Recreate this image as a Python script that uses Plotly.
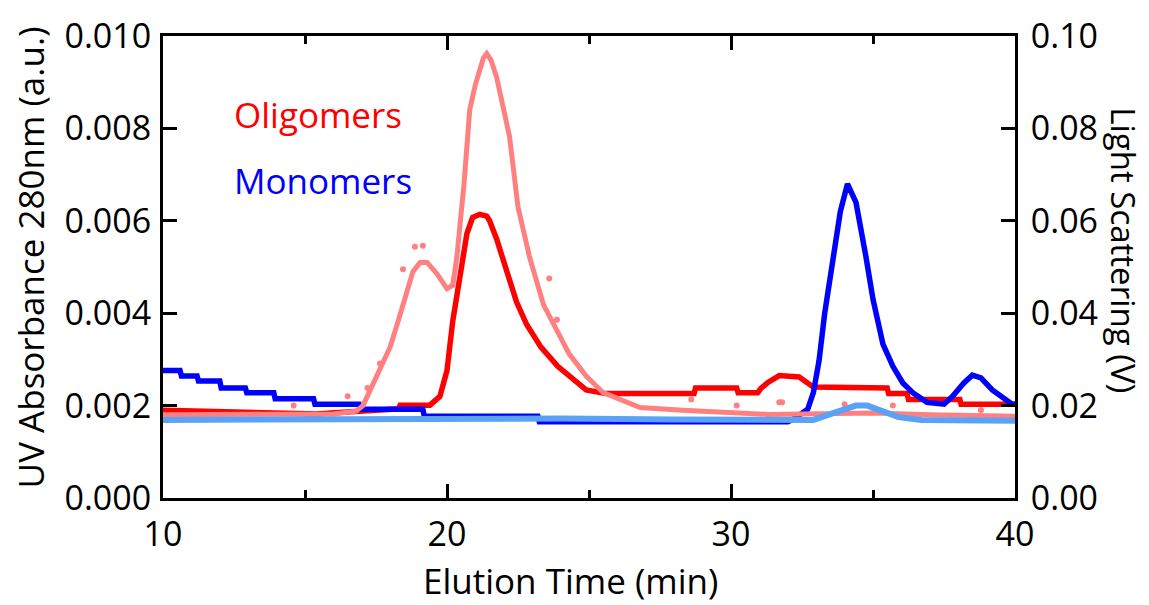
import plotly.graph_objects as go

# ---- Data ----
# UV absorbance, oligomers (a.u.)  -- left axis
uv_olig_t = [10, 11, 12, 13, 14, 15.4, 16.2, 16.8, 17.8, 18.3, 18.35, 19.4, 19.75, 20.0, 20.2,
             20.45, 20.7, 20.9, 21.15, 21.4, 21.5, 21.75, 22.1, 22.45, 22.8, 23.3, 23.9, 24.45,
             24.9, 25.6, 28.7, 28.75, 30.2, 30.25, 30.94, 31.06, 31.3, 31.7, 32.4, 32.9, 35.5,
             35.55, 36.2, 36.25, 38.06, 38.1, 40]
uv_olig_v = [0.00190, 0.00188, 0.00186, 0.00184, 0.00183, 0.00182, 0.00185, 0.00188, 0.00192,
             0.00193, 0.00201, 0.00201, 0.00220, 0.00276, 0.00382, 0.00487, 0.00572, 0.00607,
             0.00614, 0.00610, 0.00600, 0.00560, 0.00487, 0.00424, 0.00376, 0.00327, 0.00285,
             0.00255, 0.00234, 0.00226, 0.00226, 0.00238, 0.00238, 0.00228, 0.00228, 0.00238,
             0.00250, 0.00265, 0.00262, 0.00240, 0.00238, 0.00226, 0.00226, 0.00213, 0.00213,
             0.00203, 0.00203]

# UV absorbance, monomers (a.u.) -- left axis
uv_mono_t = [10, 10.6, 10.65, 11.2, 11.25, 12, 12.05, 12.9, 12.95, 13.9, 13.95, 15.3, 15.35,
             16.9, 16.95, 19.15, 19.2, 23.2, 23.25, 32.0, 32.2, 32.7, 32.9, 33.1, 33.3, 33.6,
             33.85, 34.1, 34.4, 34.75, 35.0, 35.35, 35.7, 36.05, 36.4, 36.9, 37.5, 37.8, 38.2,
             38.5, 38.8, 39.2, 39.6, 39.9, 40]
uv_mono_v = [0.00276, 0.00276, 0.00264, 0.00264, 0.00253, 0.00253, 0.00238, 0.00238, 0.00228,
             0.00228, 0.00215, 0.00215, 0.00203, 0.00203, 0.00192, 0.00192, 0.00177, 0.00177,
             0.00165, 0.00165, 0.00171, 0.00192, 0.00228, 0.00297, 0.00400, 0.00523, 0.00620,
             0.00680, 0.00640, 0.00523, 0.00430, 0.00333, 0.00285, 0.00249, 0.00228, 0.00207,
             0.00203, 0.00220, 0.00249, 0.00266, 0.00260, 0.00234, 0.00217, 0.00203, 0.00203]

# Light scattering, oligomers (V) -- right axis
ls_olig_t = [10, 12, 14, 16, 16.8, 17.04, 17.3, 17.6, 18.0, 18.35, 18.6, 18.8, 19.05, 19.3,
             19.65, 20.0, 20.2, 20.35, 20.6, 20.8, 21.0, 21.16, 21.28, 21.4, 21.55, 21.75,
             22.2, 22.5, 22.9, 23.4, 23.9, 24.3, 24.9, 25.5, 26.8, 28.3, 31.3, 33.5, 35.0,
             37.0, 40]
ls_olig_v = [0.0180, 0.0180, 0.0180, 0.0182, 0.0188, 0.0200, 0.0234, 0.0276, 0.0327, 0.0397,
             0.0445, 0.0490, 0.0510, 0.0510, 0.0485, 0.0453, 0.0460, 0.0523, 0.0680, 0.0840,
             0.0895, 0.0930, 0.0952, 0.0962, 0.0948, 0.0910, 0.0783, 0.0630, 0.0523, 0.0418,
             0.0360, 0.0312, 0.0264, 0.0228, 0.0196, 0.0190, 0.0181, 0.0183, 0.0184, 0.0180,
             0.0177]

# scattered outlier points of the oligomer light-scattering trace (V)
ls_olig_dot_t = [14.6, 16.5, 17.2, 17.64, 18.45, 18.87, 19.15, 23.6, 23.87, 28.6, 30.2, 31.7,
                 31.8, 34.0, 35.7, 38.8]
ls_olig_dot_v = [0.0200, 0.0220, 0.0238, 0.0291, 0.0495, 0.0544, 0.0546, 0.0475, 0.0386,
                 0.0213, 0.0200, 0.0207, 0.0207, 0.0203, 0.0200, 0.0190]

# Light scattering, monomers (V) -- right axis
ls_mono_t = [10, 14, 17, 20, 24, 28, 32.1, 32.9, 33.7, 34.4, 34.8, 35.3, 35.9, 36.7, 40]
ls_mono_v = [0.0169, 0.0170, 0.0172, 0.0173, 0.0172, 0.0170, 0.0167, 0.0169, 0.0186, 0.0200,
             0.0200, 0.0190, 0.0175, 0.0169, 0.0167]

x_ticks = [10, 20, 30, 40]
x_minor_ticks = [15, 25, 35]
y_left_ticks = [0.000, 0.002, 0.004, 0.006, 0.008, 0.010]
y_right_ticks = [0.00, 0.02, 0.04, 0.06, 0.08, 0.10]

RED = "#ff0000"
PINK = "#ff8080"
BLUE = "#0000ff"
LIGHTBLUE = "#5aa2f5"
FONT = "Open Sans"

fig = go.Figure()

fig.add_trace(go.Scatter(x=ls_olig_t, y=ls_olig_v, yaxis="y2", mode="lines",
                         line=dict(color=PINK, width=5), showlegend=False))
fig.add_trace(go.Scatter(x=ls_olig_dot_t, y=ls_olig_dot_v, yaxis="y2", mode="markers",
                         marker=dict(color=PINK, size=6), showlegend=False))
fig.add_trace(go.Scatter(x=ls_mono_t, y=ls_mono_v, yaxis="y2", mode="lines",
                         line=dict(color=LIGHTBLUE, width=6), showlegend=False))
fig.add_trace(go.Scatter(x=uv_olig_t, y=uv_olig_v, mode="lines",
                         line=dict(color=RED, width=5.5), showlegend=False))
fig.add_trace(go.Scatter(x=uv_mono_t, y=uv_mono_v, mode="lines",
                         line=dict(color=BLUE, width=5.5), showlegend=False))

axis_common = dict(showline=True, linewidth=3, linecolor="black", ticks="inside",
                   tickwidth=2.5, tickcolor="black", showgrid=False, zeroline=False,
                   ticklabeloverflow="allow",
                   tickfont=dict(family=FONT, size=34, color="black"))

fig.update_layout(
    width=1149, height=605,
    margin=dict(l=163, r=134, t=24, b=107),
    paper_bgcolor="white", plot_bgcolor="white",
    font=dict(family=FONT, color="black"),
    xaxis=dict(range=[10, 40], tickvals=x_ticks, ticklen=14, mirror="ticks",
               minor=dict(tickvals=x_minor_ticks, ticklen=8, ticks="inside",
                          tickwidth=2.5, tickcolor="black"),
               ticklabelstandoff=4, **axis_common),
    yaxis=dict(range=[0, 0.0100001], tickvals=y_left_ticks, tickformat=".3f", ticklen=14,
               ticklabelstandoff=2, **axis_common),
    yaxis2=dict(range=[0, 0.100001], tickvals=y_right_ticks, tickformat=".2f", ticklen=14,
                overlaying="y", side="right", anchor="x", ticklabelstandoff=6,
                **axis_common),
    annotations=[
        dict(text="Oligomers", x=12.43, y=0.0083, xref="x", yref="y", xanchor="left",
             yanchor="middle", showarrow=False, font=dict(family=FONT, size=35, color=RED)),
        dict(text="Monomers", x=12.43, y=0.00687, xref="x", yref="y", xanchor="left",
             yanchor="middle", showarrow=False, font=dict(family=FONT, size=35, color=BLUE)),
        dict(text="UV Absorbance 280nm (a.u.)", x=-0.156, y=0.521, xref="paper", yref="paper",
             xanchor="center", yanchor="middle", textangle=-90, showarrow=False,
             font=dict(family=FONT, size=35, color="black")),
        dict(text="Light Scattering (V)", x=1.128, y=0.536, xref="paper", yref="paper",
             xanchor="center", yanchor="middle", textangle=90, showarrow=False,
             font=dict(family=FONT, size=33, color="black")),
        dict(text="Elution Time (min)", x=0.478, y=-0.179, xref="paper", yref="paper",
             xanchor="center", yanchor="middle", showarrow=False,
             font=dict(family=FONT, size=35, color="black")),
    ],
)

fig.write_html("out.html", config={"displayModeBar": False},
               post_script="document.body.style.margin='0';document.body.style.overflow='hidden';")
